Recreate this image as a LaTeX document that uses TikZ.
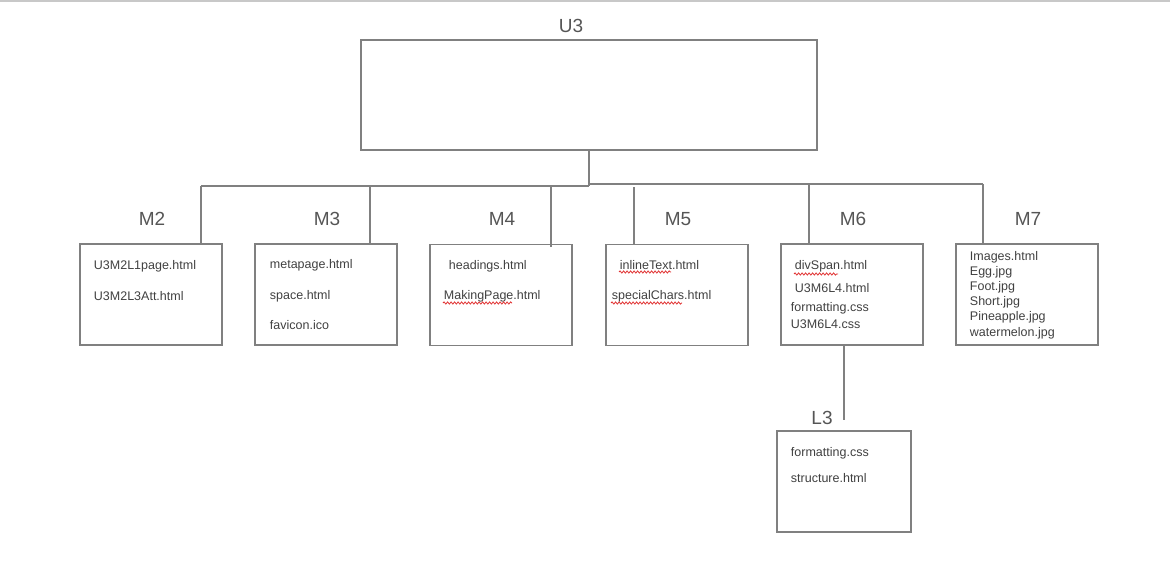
\documentclass[tikz,border=0pt]{standalone}
\usepackage{fontspec}
\setmainfont{Liberation Sans}
\usetikzlibrary{decorations.pathmorphing}
\definecolor{linegray}{HTML}{808080}
\definecolor{pagegray}{HTML}{C8C8C8}
\definecolor{filetext}{HTML}{404040}
\definecolor{headtext}{HTML}{555555}
\definecolor{spellred}{HTML}{E03030}
\tikzset{
  folder/.style={draw=linegray, line width=1.4pt, minimum width=142pt, minimum height=101pt, inner sep=0pt},
  link/.style={draw=linegray, line width=1.4pt},
  fname/.style={anchor=west, inner sep=0.75pt, text=filetext, font=\fontsize{12.5}{14}\selectfont},
  head/.style={inner sep=0.75pt, text=headtext, font=\fontsize{19}{22}\selectfont},
  squiggle/.style={draw=spellred, line width=0.8pt, decorate, decoration={snake, amplitude=1.1pt, segment length=3.5pt}}
}

\begin{document}
\begin{tikzpicture}[x=1pt, y=-1pt]
\useasboundingbox (0,0) rectangle (1170,576);
\draw[pagegray, line width=1.2pt] (0,1) -- (1170,1);
%Boxes
\node[folder, minimum width=456pt, minimum height=110pt] (u3) at (589,95) {};
\node[folder] (m2) at (151,294.5) {};
\node[folder] (m3) at (326,294.5) {};
\node[folder] (m4) at (501,295) {};
\node[folder] (m5) at (677,295) {};
\node[folder] (m6) at (852,294.5) {};
\node[folder] (m7) at (1027,294.5) {};
\node[folder, minimum width=134pt] (l3) at (844,481.5) {};
%Lines
\coordinate (hub) at (589,186);
\coordinate (b2) at (201,186);
\coordinate (b3) at (370,186);
\coordinate (b4) at (551,185);
\coordinate (b5) at (634,187);
\coordinate (b6) at (809,184);
\coordinate (b7) at (983,184);
\draw[link] (u3.south) -- (hub);
\draw[link] (b2) -- (hub);
\draw[link] (590,184) -- (b7);
\draw[link] (b2) -- (m2.north -| b2);
\draw[link] (b3) -- (m3.north -| b3);
\draw[link] (b4) -- ([yshift=-3pt]m4.north -| b4);
\draw[link] (b5) -- (m5.north -| b5);
\draw[link] (b6) -- ([yshift=-2pt]m6.north -| b6);
\draw[link] (b7) -- (m7.north -| b7);
\draw[link] (m6.south -| l3.north) -- ([yshift=10pt]l3.north);
%Text
\node[head] (u3lab) at (571,26) {U3};
\node[head] (m2lab) at (152,219) {M2};
\node[head] (m3lab) at (327,219) {M3};
\node[head] (m4lab) at (502,219) {M4};
\node[head] (m5lab) at (678,219) {M5};
\node[head] (m6lab) at (853,219) {M6};
\node[head] (m7lab) at (1028,219) {M7};
\node[head] (l3lab) at (822,418) {L3};
\node[fname] (f21) at (93,266) {U3M2L1page.html};
\node[fname] (f22) at (93,296) {U3M2L3Att.html};
\node[fname] (f31) at (269,265) {metapage.html};
\node[fname] (f32) at (269,296) {space.html};
\node[fname] (f33) at (269,325) {favicon.ico};
\node[fname] (f41) at (448,266) {headings.html};
\node[fname] (f42) at (443,296) {MakingPage.html};
\node[fname] (f51) at (619,265) {inlineText.html};
\node[fname] (f52) at (611,296) {specialChars.html};
\node[fname] (f61) at (794,266) {divSpan.html};
\node[fname] (f62) at (794,288) {U3M6L4.html};
\node[fname] (f63) at (790,308) {formatting.css};
\node[fname] (f64) at (790,324) {U3M6L4.css};
\node[fname] (f71) at (969,257) {Images.html};
\node[fname] (f72) at (969,272) {Egg.jpg};
\node[fname] (f73) at (969,287) {Foot.jpg};
\node[fname] (f74) at (969,302.5) {Short.jpg};
\node[fname] (f75) at (969,317.5) {Pineapple.jpg};
\node[fname] (f76) at (969,333) {watermelon.jpg};
\node[fname] (f81) at (790,453) {formatting.css};
\node[fname] (f82) at (790,478) {structure.html};
%spelling marks
\draw[squiggle] (443,303) -- (512,303);
\draw[squiggle] (619,272) -- (671,272);
\draw[squiggle] (611,303) -- (682,303);
\draw[squiggle] (794,274) -- (838,274);
\end{tikzpicture}
\end{document}
